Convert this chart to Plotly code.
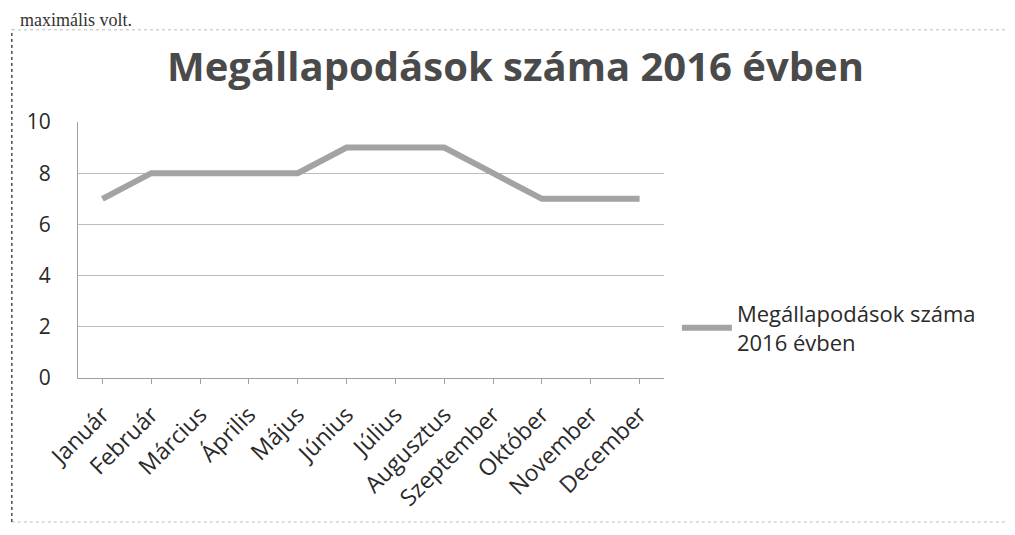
import plotly.graph_objects as go

months = ["Január", "Február", "Március", "Április", "Május", "Június",
          "Július", "Augusztus", "Szeptember", "Október", "November", "December"]
values = [7, 8, 8, 8, 8, 9, 9, 9, 8, 7, 7, 7]
series_name = "Megállapodások száma<br>2016 évben"
title_text = "Megállapodások száma 2016 évben"
y_ticks = [0, 2, 4, 6, 8, 10]

fig = go.Figure()
fig.add_trace(go.Scatter(
    x=months, y=values, mode="lines", name=series_name,
    line=dict(color="#a3a3a3", width=6),
))

fig.update_layout(
    width=1015, height=535,
    margin=dict(l=70, r=359, t=114, b=165),
    paper_bgcolor="white", plot_bgcolor="white",
    title=dict(text=title_text, x=0.5, xanchor="center", y=0.89, yanchor="middle",
               font=dict(family="Open Sans", size=40, color="#4a4a4a", weight="bold")),
    font=dict(family="Open Sans", color="#2a2a2a"),
    showlegend=True,
    legend=dict(x=1.022, y=0.195, xanchor="left", yanchor="middle",
                font=dict(size=22, color="#2a2a2a"), bgcolor="rgba(0,0,0,0)",
                itemwidth=50),
    xaxis=dict(type="category", tickangle=-45, tickfont=dict(size=23),
               showgrid=False, showline=True, linecolor="#a0a0a0", linewidth=1,
               ticks="outside", ticklen=5, tickcolor="#a0a0a0", range=[-0.5, 11.5],
               ticklabelstandoff=8),
    yaxis=dict(range=[0, 10], tickvals=y_ticks, tickfont=dict(size=21),
               showgrid=True, gridcolor="#bdbdbd", gridwidth=1,
               showline=True, linecolor="#a0a0a0", zeroline=True, zerolinecolor="#bdbdbd",
               ticks="", ticklabelstandoff=22),
)

fig.add_annotation(text="maximális volt.", xref="paper", yref="paper",
                   x=-0.102, y=1.445, xanchor="left", yanchor="top", showarrow=False,
                   font=dict(family="Liberation Serif", size=18, color="#333333"))

fig.add_shape(type="rect", xref="paper", yref="paper",
              x0=-0.113, x1=1.62, y0=-0.5625, y1=1.36,
              line=dict(color="#bcbcbc", width=1, dash="dot"))
fig.add_shape(type="line", xref="paper", yref="paper",
              x0=-0.113, x1=-0.113, y0=-0.5625, y1=1.36,
              line=dict(color="#555555", width=1.5, dash="dot"))

fig.write_html("out.html")
